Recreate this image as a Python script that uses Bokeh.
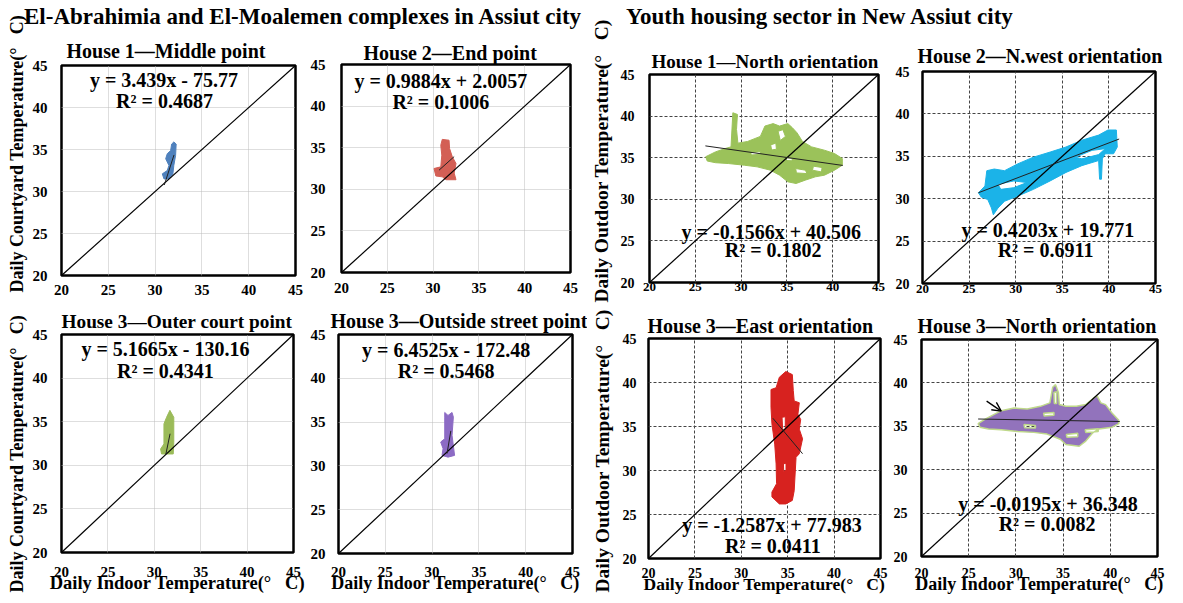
from bokeh.plotting import figure
from bokeh.layouts import row, column
from bokeh.models import Range1d, FixedTicker, Div, Arrow, OpenHead, Title
from bokeh.embed import file_html
from bokeh.resources import INLINE
from bokeh.core.properties import value

FONT = "Liberation Serif"

# ---------------- data ----------------
AXIS_TICKS = [20, 25, 30, 35, 40, 45]
GRID_TICKS = [25, 30, 35, 40]
DIAG_X = [20, 45]
DIAG_Y = [20, 45]

HEAD_LEFT = "El-Abrahimia and El-Moalemen complexes in Assiut city"
HEAD_RIGHT = "Youth housing sector in New Assiut city"
XLABEL = "Daily Indoor Temperature(\u00b0 \u00a0 C)"
YLABEL_COURT = "Daily Courtyard Temperature(\u00b0 \u00a0 C)"
YLABEL_OUT = "Daily Outdoor Temperature(\u00b0 \u00a0 C)"

# House 1 - Middle point (blue)
p1_cloud_x = [30.95, 30.77, 31.3, 31.48, 31.13, 31.3, 31.66, 31.77, 32.0, 32.25, 32.19, 32.0, 31.9, 31.48]
p1_cloud_y = [31.5, 32.1, 32.5, 33.1, 33.9, 34.5, 34.87, 35.65, 35.9, 35.65, 34.3, 33.1, 32.1, 31.5]
p1_fit_x = [30.98, 32.02]
p1_fit_y = [30.77, 34.35]
p1_eq = ["y = 3.439x - 75.77", "R\u00b2 = 0.4687"]

# House 2 - End point (red)
p2_cloud_x = [31.0, 31.74, 31.8, 32.1, 32.5, 32.3, 32.5, 31.4, 31.0, 30.3, 30.1, 30.84, 30.95, 30.84]
p2_cloud_y = [36.0, 35.9, 34.9, 33.9, 33.1, 31.95, 31.15, 31.15, 31.5, 31.6, 32.5, 32.7, 34.1, 35.3]
p2_fit_x = [30.65, 32.3]
p2_fit_y = [32.3, 33.93]
p2_eq = ["y = 0.9884x + 2.0057", "R\u00b2 = 0.1006"]

# House 3 - Outer court point (green)
p5_cloud_x = [30.78, 30.68, 31.04, 31.04, 31.32, 31.68, 32.1, 32.1, 32.04]
p5_cloud_y = [31.3, 31.87, 32.45, 34.75, 35.5, 36.3, 35.5, 32.6, 31.3]
p5_fit_x = [31.25, 31.7]
p5_fit_y = [31.29, 33.62]
p5_eq = ["y = 5.1665x - 130.16", "R\u00b2 = 0.4341"]

# House 3 - Outside street point (purple)
p6_cloud_x = [31.35, 31.7, 32.13, 32.27, 32.13, 32.4, 31.7, 31.06, 31.17, 30.92, 31.35, 31.35]
p6_cloud_y = [36.1, 35.76, 36.1, 35.57, 33.5, 31.2, 31.0, 31.2, 31.97, 32.73, 33.1, 35.57]
p6_fit_x = [31.6, 32.0]
p6_fit_y = [31.42, 34.0]
p6_eq = ["y = 6.4525x - 172.48", "R\u00b2 = 0.5468"]

# House 1 - North orientation (green)
p3_cloud_x = [26.14, 27.2, 28.25, 28.9, 29.1, 29.6, 29.5, 29.65, 30.7, 32.1, 32.6, 33.5, 34.2, 35.1,
              35.6, 36.1, 36.7, 37.7, 39.1, 40.2, 41.05, 41.05, 40.2, 39.1, 38.1, 37.0, 36.0, 35.1,
              34.2, 33.2, 31.75, 30.35, 28.6, 27.2, 26.3]
p3_cloud_y = [35.12, 35.7, 36.1, 36.3, 40.4, 40.2, 38.4, 36.75, 36.95, 37.56, 38.8, 39.1, 38.8, 39.1,
              38.6, 38.0, 36.95, 36.3, 35.9, 35.5, 34.9, 34.1, 33.5, 32.9, 32.7, 32.3, 31.9, 32.1,
              32.9, 33.5, 33.9, 34.1, 34.3, 34.4, 34.6]
p3_holes_x = [[34.04, 34.56, 34.84, 34.28], [33.23, 33.79, 33.86, 33.33], [31.05, 32.1, 32.1, 31.12],
              [35.96, 37.02, 37.19, 36.04], [37.9, 38.84, 38.77, 37.79], [34.84, 35.61, 35.54, 34.91]]
p3_holes_y = [[38.17, 38.37, 37.56, 37.07], [36.54, 36.75, 36.02, 35.93], [35.61, 35.73, 35.41, 35.33],
              [33.7, 33.5, 33.09, 33.17], [33.98, 33.82, 33.29, 33.5], [35.0, 34.92, 34.63, 34.67]]
p3_fit_x = [26.1, 41.1]
p3_fit_y = [36.42, 34.07]
p3_eq = ["y = -0.1566x + 40.506", "R\u00b2 = 0.1802"]

# House 2 - N.west orientation (cyan)
p4_cloud_x = [26.0, 26.7, 26.9, 27.7, 28.8, 30.2, 31.9, 33.7, 35.4, 37.1, 38.9, 39.9, 40.8, 40.9,
              40.5, 39.6, 39.3, 39.2, 39.0, 38.9, 37.1, 35.4, 33.7, 31.9, 30.2, 28.8, 28.1, 27.6,
              27.4, 27.0, 26.3]
p4_cloud_y = [30.7, 31.5, 33.3, 33.5, 33.3, 34.1, 34.9, 35.5, 36.1, 36.9, 37.5, 38.1, 38.1, 36.1,
              35.3, 35.3, 34.7, 32.3, 32.3, 34.5, 33.9, 33.1, 32.1, 31.1, 30.3, 29.7, 28.9, 28.1,
              28.9, 29.9, 30.2]
p4_holes_x = [[28.1, 29.8, 31.2, 29.8, 28.4], [36.4, 38.2, 39.6, 38.9, 37.1]]
p4_holes_y = [[31.7, 32.1, 31.9, 31.3, 31.1], [34.9, 35.7, 35.9, 35.2, 34.7]]
p4_fit_x = [26.0, 41.1]
p4_fit_y = [30.7, 37.04]
p4_eq = ["y = 0.4203x + 19.771", "R\u00b2 = 0.6911"]

# House 3 - East orientation (red)
p7_cloud_x = [34.8, 35.5, 35.6, 35.7, 36.25, 36.1, 36.4, 36.25, 36.6, 36.25, 35.9, 35.8, 35.7, 35.5,
              34.8, 34.1, 33.3, 33.3, 33.8, 33.75, 33.6, 33.3, 33.2, 33.2, 33.75, 34.1]
p7_cloud_y = [41.25, 40.9, 39.1, 37.9, 37.7, 36.4, 35.8, 34.7, 33.6, 31.9, 31.5, 29.6, 27.7, 26.6,
              26.2, 26.2, 27.0, 27.55, 28.5, 30.75, 33.0, 35.3, 37.2, 39.2, 39.4, 40.6]
p7_holes_x = [[34.39, 34.74, 34.74, 34.46], [34.54, 34.82, 34.82, 34.57]]
p7_holes_y = [[36.04, 36.11, 34.72, 34.6], [30.75, 30.83, 30.0, 29.92]]
p7_fit_x = [33.4, 36.6]
p7_fit_y = [35.94, 31.91]
p7_eq = ["y = -1.2587x + 77.983", "R\u00b2 = 0.0411"]

# House 3 - North orientation (purple)
p8_cloud_x = [26.0, 26.7, 28.45, 29.8, 31.2, 32.6, 33.6, 33.9, 34.2, 34.5, 34.6, 35.3, 36.4, 37.4,
              38.3, 38.6, 39.0, 39.5, 40.2, 40.9, 40.9, 40.2, 38.8, 38.1, 37.4, 36.7, 35.3, 34.7,
              33.3, 31.9, 30.2, 28.45, 27.1, 26.2]
p8_cloud_y = [35.3, 35.8, 36.8, 37.1, 37.0, 37.3, 37.7, 39.5, 39.8, 38.9, 37.5, 37.3, 37.3, 37.5,
              38.3, 38.5, 37.7, 37.5, 36.5, 35.7, 35.3, 34.9, 34.7, 34.2, 33.3, 32.7, 32.9, 33.5,
              34.1, 34.3, 34.4, 34.6, 34.7, 34.9]
p8_holes_x = [[30.86, 32.07, 32.07, 30.93], [35.34, 36.55, 36.55, 35.41], [37.34, 38.72, 38.72, 37.41],
              [34.03, 34.31, 34.31, 34.07], [32.93, 34.03, 34.03, 33.0]]
p8_holes_y = [[35.2, 35.08, 34.8, 34.84], [34.05, 34.21, 33.81, 33.73], [34.6, 34.72, 34.4, 34.29],
              [38.89, 38.97, 37.62, 37.62], [36.51, 36.59, 36.27, 36.19]]
p8_fit_x = [26.0, 41.0]
p8_fit_y = [35.84, 35.55]
p8_arrow = [26.9, 37.9, 28.45, 36.75]
p8_eq = ["y = -0.0195x + 36.348", "R\u00b2 = 0.0082"]


def make_panel(title, cloud_x, cloud_y, holes_x, holes_y, fill, edge, fit_x, fit_y, eq, eq_pos,
               w, h, ml, mr, mt, mb, title_off, title_so, left_style,
               ytick_so, ytick_size, xtick_so, xtick_size, title_size="20px",
               ylabel=None, yl_off=0, yl_so=2, yl_size="18px", xlabel=None, xl_so=0,
               xl_size="18.5px"):
    p = figure(width=w, height=h, x_range=Range1d(20, 45), y_range=Range1d(20, 45),
               output_backend="svg", toolbar_location=None, tools="",
               min_border_left=ml, min_border_right=mr, min_border_top=mt, min_border_bottom=mb)
    try:
        p.frame_align = False
    except Exception:
        pass
    p.border_fill_color = None
    p.background_fill_color = "white"
    p.outline_line_color = "black"
    p.outline_line_width = 2.5
    p.outline_line_alpha = 1.0

    p.title.text = title
    p.title.align = "left"
    p.title.offset = title_off
    p.title.standoff = title_so
    p.title.vertical_align = "bottom"
    p.title.text_font = FONT
    p.title.text_font_size = title_size
    p.title.text_font_style = "bold"
    p.title.text_color = "black"

    for ax, so, fs in ((p.xaxis[0], xtick_so, xtick_size), (p.yaxis[0], ytick_so, ytick_size)):
        ax.ticker = FixedTicker(ticks=AXIS_TICKS, minor_ticks=[])
        ax.major_tick_out = 0
        ax.major_tick_in = 0
        ax.minor_tick_out = 0
        ax.minor_tick_in = 0
        ax.axis_line_color = None
        ax.major_label_text_font = FONT
        ax.major_label_text_font_style = "bold"
        ax.major_label_text_font_size = fs
        ax.major_label_text_color = "black"
        ax.major_label_standoff = so

    if left_style:
        gcol, gdash = "#BDBDBD", "1 1"
    else:
        gcol, gdash = "#444444", "3 2"
    for g in (p.xgrid[0], p.ygrid[0]):
        g.ticker = FixedTicker(ticks=GRID_TICKS, minor_ticks=[])
        g.grid_line_color = gcol
        g.grid_line_dash = gdash
        g.grid_line_width = 1

    if xlabel:
        p.xaxis.axis_label = xlabel
        p.xaxis.axis_label_text_font = FONT
        p.xaxis.axis_label_text_font_style = "bold"
        p.xaxis.axis_label_text_font_size = xl_size
        p.xaxis.axis_label_text_color = "black"
        p.xaxis.axis_label_standoff = xl_so

    if ylabel:
        t = Title(text=ylabel, align="left", offset=yl_off, standoff=yl_so, vertical_align="top",
                  text_font=FONT, text_font_size=yl_size, text_font_style="bold", text_color="black")
        p.add_layout(t, "left")

    p.multi_polygons(xs=[[[cloud_x] + holes_x]], ys=[[[cloud_y] + holes_y]],
                     fill_color=fill, line_color=edge, line_width=1.5 if edge != fill else 1)
    p.line(DIAG_X, DIAG_Y, line_color="black", line_width=1.2)
    p.line(fit_x, fit_y, line_color="#222222", line_width=1)
    p.text(x=[eq_pos[0], eq_pos[2]], y=[eq_pos[1], eq_pos[3]], text=eq,
           text_font=value(FONT), text_font_style="bold", text_font_size="20px",
           text_align="center", text_baseline="middle", text_color="black")
    return p


p1 = make_panel("House 1\u2014Middle point", p1_cloud_x, p1_cloud_y, [], [], "#4F81BD", "#4F81BD",
                p1_fit_x, p1_fit_y, p1_eq, [30.95, 43.25, 31.0, 40.8],
                302, 294, 54, 12, 55, 29, 5, 7.4, True, 14, "15px", 9, "15px",
                ylabel=YLABEL_COURT, yl_off=-17, yl_so=2)
p2 = make_panel("House 2\u2014End point", p2_cloud_x, p2_cloud_y, [], [], "#D35F55", "#D35F55",
                p2_fit_x, p2_fit_y, p2_eq, [30.84, 43.0, 30.84, 40.5],
                280, 294, 33, 17, 54, 32, 22, 1.4, True, 16, "15px", 10, "15px")
p3 = make_panel("House 1\u2014North orientation", p3_cloud_x, p3_cloud_y, p3_holes_x, p3_holes_y,
                "#9BC25A", "#9BC25A", p3_fit_x, p3_fit_y, p3_eq, [33.3, 26.1, 33.5, 23.85],
                301, 294, 60, 10, 64, 22, 2, 5.4, False, 15, "14px", 0, "13px", title_size="19px",
                ylabel=YLABEL_OUT, yl_off=-20, yl_so=7, yl_size="19.5px")
p4 = make_panel("House 2\u2014N.west orientation", p4_cloud_x, p4_cloud_y, p4_holes_x, p4_holes_y,
                "#1BB3E8", "#1BB3E8", p4_fit_x, p4_fit_y, p4_eq, [33.45, 26.3, 33.2, 23.9],
                282, 294, 34, 15, 61, 21, -5, 9.4, False, 13, "14px", 1, "13px")

p5 = make_panel("House 3\u2014Outer court point", p5_cloud_x, p5_cloud_y, [], [], "#9BBB59", "#9BBB59",
                p5_fit_x, p5_fit_y, p5_eq, [31.2, 43.3, 31.2, 40.8],
                302, 292, 54, 14, 30, 44, 0, 5, True, 14, "15px", 14, "15px", title_size="19.3px",
                ylabel=YLABEL_COURT, yl_off=-40, yl_so=2, xlabel=XLABEL, xl_so=-7)
p6 = make_panel("House 3\u2014Outside street point", p6_cloud_x, p6_cloud_y, [], [], "#8C6BC4", "#8C6BC4",
                p6_fit_x, p6_fit_y, p6_eq, [31.5, 43.2, 31.5, 40.8],
                280, 292, 30, 15, 30, 43, -8, 5, True, 13, "15px", 13, "15px",
                xlabel=XLABEL, xl_so=-7, xl_size="18px")
p7 = make_panel("House 3\u2014East orientation", p7_cloud_x, p7_cloud_y, p7_holes_x, p7_holes_y,
                "#D7221F", "#D7221F", p7_fit_x, p7_fit_y, p7_eq, [33.3, 23.8, 33.4, 21.4],
                301, 292, 59, 8, 34, 38, -1, 3.4, False, 12, "14px", 9, "14px",
                ylabel=YLABEL_OUT, yl_off=-34, yl_so=9, yl_size="19.5px", xlabel=XLABEL, xl_so=-7,
                xl_size="17.5px")
p8 = make_panel("House 3\u2014North orientation", p8_cloud_x, p8_cloud_y, p8_holes_x, p8_holes_y,
                "#9273BC", "#BFD98A", p8_fit_x, p8_fit_y, p8_eq, [33.4, 26.05, 33.3, 23.75],
                282, 292, 33, 13, 35, 40, -4, 5.4, False, 14, "14px", 11, "14px",
                xlabel=XLABEL, xl_so=-7, xl_size="18px")
p8.add_layout(Arrow(end=OpenHead(size=9, line_width=1.3, line_color="black"),
                    x_start=p8_arrow[0], y_start=p8_arrow[1], x_end=p8_arrow[2], y_end=p8_arrow[3],
                    line_width=1.3, line_color="black"))

html_head = ('<div style="display:flex;white-space:nowrap;font-family:\'Liberation Serif\';'
             'font-weight:bold;font-size:23px;line-height:23px;color:#000;">'
             '<span style="display:inline-block;box-sizing:border-box;width:616px;padding-left:14px;">'
             + HEAD_LEFT + '</span><span style="display:inline-block;">' + HEAD_RIGHT + '</span></div>')
header = Div(text=html_head, width=1165, height=28,
             styles={"position": "relative", "z-index": "10"})

row1 = row(p1, p2, p3, p4, styles={"margin-top": "-28px"})
row2 = row(p5, p6, p7, p8)
layout = column(header, row1, row2, styles={"margin-left": "5px"})

with open("out.html", "w") as f:
    f.write(file_html(layout, INLINE))
